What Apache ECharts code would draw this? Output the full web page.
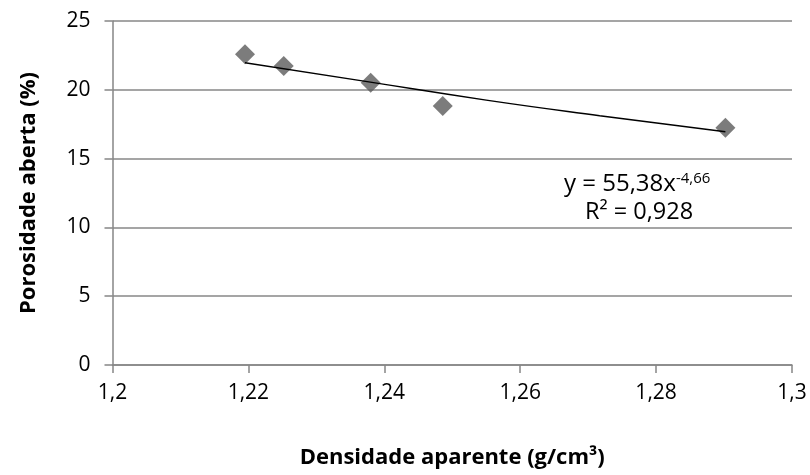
<!DOCTYPE html>
<html><head><meta charset="utf-8">
<script src="https://cdn.jsdelivr.net/npm/echarts@6/dist/echarts.min.js"></script>
<style>html,body{margin:0;padding:0;background:#fff}#c{width:810px;height:475px}</style>
</head><body><div id="c"></div>
<script>
var densidade = [1.2195, 1.2252, 1.2380, 1.2486, 1.2902];
var porosidade = [22.58, 21.73, 20.52, 18.82, 17.25];
var trendX = [1.2195, 1.2370, 1.2550, 1.2717, 1.2902];
var trendY = [21.97, 20.63, 19.25, 18.12, 16.95];
var xTicks = [1.2, 1.22, 1.24, 1.26, 1.28, 1.3];
var yTicks = [0, 5, 10, 15, 20, 25];
var xTitle = 'Densidade aparente (g/cm³)';
var yTitle = 'Porosidade aberta (%)';
var eqMain = 'y = 55,38x';
var eqExp = '-4,66';
var r2Text = 'R² = 0,928';

var font = 'Open Sans, Liberation Sans, sans-serif';
var chart = echarts.init(document.getElementById('c'), null, {renderer: 'canvas'});
chart.setOption({
  animation: false,
  grid: {left: 112.5, right: 18, top: 21, bottom: 110},
  xAxis: {
    type: 'value', min: xTicks[0], max: xTicks[xTicks.length-1], interval: 0.02,
    axisLine: {show: true, onZero: false, lineStyle: {color: '#868686', width: 1.5}},
    axisTick: {show: true, length: 8, lineStyle: {color: '#868686', width: 1.5}},
    splitLine: {show: false},
    axisLabel: {color: '#000', fontSize: 21, fontFamily: font, margin: 18,
      formatter: function(v){ return String(+v.toFixed(2)).replace('.', ','); }},
    name: xTitle, nameLocation: 'middle', nameGap: 82,
    nameTextStyle: {color: '#000', fontSize: 22, fontWeight: 'bold', fontFamily: font}
  },
  yAxis: {
    type: 'value', min: yTicks[0], max: yTicks[yTicks.length-1], interval: 5,
    axisLine: {show: true, lineStyle: {color: '#868686', width: 1.5}},
    axisTick: {show: true, length: 8, lineStyle: {color: '#868686', width: 1.5}},
    splitLine: {show: true, lineStyle: {color: '#878787', width: 1.5}},
    axisLabel: {color: '#000', fontSize: 21, fontFamily: font, margin: 22},
    name: yTitle, nameLocation: 'middle', nameGap: 73, nameRotate: 90,
    nameTextStyle: {color: '#000', fontSize: 22, fontWeight: 'bold', fontFamily: font}
  },
  series: [
    {
      type: 'line', data: trendX.map(function(x,i){return [x, trendY[i]];}),
      showSymbol: false, symbol: 'none', smooth: true,
      lineStyle: {color: '#000', width: 1.5}, z: 3
    },
    {
      type: 'scatter', data: densidade.map(function(x,i){return [x, porosidade[i]];}),
      symbol: 'diamond', symbolSize: [20, 20],
      itemStyle: {color: '#5b5b5b'}, z: 2
    }
  ],
  graphic: [
    {type: 'text', left: 564, top: 171, style: {
      text: '{a|' + eqMain + '}{s|' + eqExp + '}', fill: '#000',
      rich: {a: {fontSize: 24, lineHeight: 25, fontFamily: font, fill: '#000', verticalAlign: 'bottom'},
             s: {fontSize: 15, lineHeight: 15, fontFamily: font, fill: '#000', verticalAlign: 'top'}}
    }},
    {type: 'text', left: 585, top: 200, style: {
      text: r2Text, fontSize: 23.5, fontFamily: font, fill: '#000'
    }}
  ]
});
</script></body></html>
